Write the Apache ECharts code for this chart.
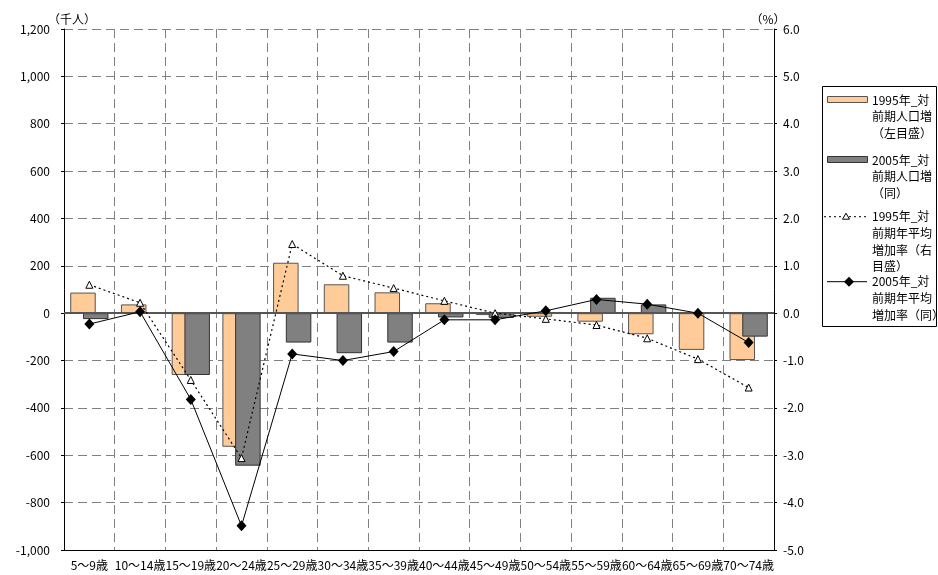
<!DOCTYPE html>
<html>
<head>
<meta charset="utf-8">
<script src="https://cdn.jsdelivr.net/npm/echarts@6/dist/echarts.min.js"></script>
<style>
  html, body { margin: 0; padding: 0; background: #fff; }
  #chart { width: 938px; height: 575px; }
</style>
</head>
<body>
<div id="chart"></div>
<script>
// Age groups on the category axis
const ageGroups = ['5～9歳', '10～14歳', '15～19歳', '20～24歳', '25～29歳', '30～34歳', '35～39歳',
  '40～44歳', '45～49歳', '50～54歳', '55～59歳', '60～64歳', '65～69歳', '70～74歳'];

// Population change from the previous period (thousand persons, left axis)
const pop1995 = [87, 37, -261, -564, 213, 122, 88, 42, -8, -15, -36, -89, -155, -198];
const pop2005 = [-25, 4, -261, -644, -124, -169, -124, -18, -20, 5, 65, 37, 0, -99];

// Average annual growth rate versus the previous period (%, right axis)
const rate1995 = [0.60, 0.22, -1.41, -3.06, 1.46, 0.79, 0.53, 0.26, 0.00, -0.12, -0.25, -0.53, -0.97, -1.57];
const rate2005 = [-0.23, 0.03, -1.82, -4.49, -0.86, -1.00, -0.81, -0.14, -0.14, 0.05, 0.29, 0.19, 0.00, -0.62];

// Series names (legend text lines)
const seriesNames = [
  ['1995年_対', '前期人口増', '（左目盛）'],
  ['2005年_対', '前期人口増', '（同）'],
  ['1995年_対', '前期年平均', '増加率（右', '目盛）'],
  ['2005年_対', '前期年平均', '増加率（同）']
];

const FONT = '"Noto Sans CJK JP", "Noto Sans", sans-serif';
const ORANGE = '#FFCC99';
const GRAY = '#808080';
const gridLine = { color: '#808080', width: 1, type: [9, 5] };

const chart = echarts.init(document.getElementById('chart'));

// Legend drawn as a bordered box with swatches to the right of the plot
const legendX = 822, legendTop = 86, legendW = 114, legendH = 240;
const itemY = [100, 160, 216.7, 281.7];
const lineH = 16.7;
const legendGraphics = [
  { type: 'rect', shape: { x: legendX + 0.5, y: legendTop + 0.5, width: legendW, height: legendH },
    style: { fill: '#fff', stroke: '#000', lineWidth: 1 }, z: 10 },
  { type: 'rect', shape: { x: 827.5, y: itemY[0] - 3.5, width: 40, height: 6 },
    style: { fill: ORANGE, stroke: '#555', lineWidth: 1 }, z: 11 },
  { type: 'rect', shape: { x: 827.5, y: itemY[1] - 3.5, width: 40, height: 6 },
    style: { fill: GRAY, stroke: '#333', lineWidth: 1 }, z: 11 },
  { type: 'line', shape: { x1: 824, y1: itemY[2], x2: 867, y2: itemY[2] },
    style: { stroke: '#000', lineWidth: 1, lineDash: [2, 3] }, z: 11 },
  { type: 'polygon', shape: { points: [[846, itemY[2] - 3.5], [842.5, itemY[2] + 2.5], [849.5, itemY[2] + 2.5]] },
    style: { fill: '#fff', stroke: '#000', lineWidth: 1 }, z: 12 },
  { type: 'line', shape: { x1: 827, y1: itemY[3], x2: 867, y2: itemY[3] },
    style: { stroke: '#000', lineWidth: 1 }, z: 11 },
  { type: 'polygon', shape: { points: [[849, itemY[3] - 5], [854, itemY[3]], [849, itemY[3] + 5], [844, itemY[3]]] },
    style: { fill: '#000' }, z: 12 }
];
seriesNames.forEach((lines, i) => {
  lines.forEach((t, j) => {
    legendGraphics.push({
      type: 'text', z: 12,
      style: { text: t, x: 872, y: itemY[i] + j * lineH, fill: '#000',
        font: '12px ' + FONT, textVerticalAlign: 'middle', verticalAlign: 'middle' }
    });
  });
});
// Unit captions above the two value axes
legendGraphics.push(
  { type: 'text', z: 12, style: { text: '（千人）', x: 72, y: 19, fill: '#000', font: '12px ' + FONT,
    align: 'center', verticalAlign: 'middle', textAlign: 'center', textVerticalAlign: 'middle' } },
  { type: 'text', z: 12, style: { text: '（%）', x: 768, y: 19, fill: '#000', font: '12px ' + FONT,
    align: 'center', verticalAlign: 'middle', textAlign: 'center', textVerticalAlign: 'middle' } }
);

chart.setOption({
  animation: false,
  textStyle: { fontFamily: FONT },
  grid: { left: 64, right: 164, top: 29, bottom: 25, containLabel: false },
  xAxis: {
    type: 'category',
    data: ageGroups,
    boundaryGap: true,
    axisLine: { onZero: false, lineStyle: { color: '#000', width: 1 } },
    axisTick: { show: false },
    axisLabel: { interval: 0, color: '#000', fontSize: 12, margin: 9, fontFamily: FONT },
    splitLine: { show: true, interval: 0, lineStyle: gridLine }
  },
  yAxis: [
    {
      type: 'value', min: -1000, max: 1200, interval: 200,
      axisLine: { show: true, lineStyle: { color: '#000', width: 1 } },
      axisTick: { show: true, length: 3, lineStyle: { color: '#000' } },
      axisLabel: { color: '#000', fontSize: 12, margin: 14, fontFamily: FONT,
        formatter: v => (v < 0 ? '-' : '') + Math.abs(v).toLocaleString('en-US') },
      splitLine: { show: true, lineStyle: gridLine }
    },
    {
      type: 'value', min: -5, max: 6, interval: 1, position: 'right',
      axisLine: { show: true, lineStyle: { color: '#000', width: 1 } },
      axisTick: { show: true, length: 3, lineStyle: { color: '#000' } },
      axisLabel: { color: '#000', fontSize: 12, margin: 9, fontFamily: FONT,
        formatter: v => v.toFixed(1) },
      splitLine: { show: false }
    }
  ],
  series: [
    {
      name: seriesNames[0].join(''), type: 'bar', yAxisIndex: 0, data: pop1995,
      barWidth: 25.5, barGap: '-50%',
      itemStyle: { color: ORANGE, borderColor: '#555', borderWidth: 1 },
      markLine: {
        silent: true, symbol: 'none', label: { show: false },
        lineStyle: { color: '#555', width: 2, type: 'solid' },
        data: [{ yAxis: 0 }]
      },
      z: 2
    },
    {
      name: seriesNames[1].join(''), type: 'bar', yAxisIndex: 0, data: pop2005,
      barWidth: 25.5, barGap: '-50%',
      itemStyle: { color: GRAY, borderColor: '#333', borderWidth: 1 },
      z: 3
    },
    {
      name: seriesNames[2].join(''), type: 'line', yAxisIndex: 1, data: rate1995,
      symbol: 'triangle', symbolSize: 7, showAllSymbol: true,
      lineStyle: { color: '#000', width: 1.2, type: [2, 3] },
      itemStyle: { color: '#fff', borderColor: '#000', borderWidth: 1 },
      z: 5
    },
    {
      name: seriesNames[3].join(''), type: 'line', yAxisIndex: 1, data: rate2005,
      symbol: 'diamond', symbolSize: [10, 11], showAllSymbol: true,
      lineStyle: { color: '#000', width: 1 },
      itemStyle: { color: '#000' },
      z: 6
    }
  ],
  graphic: legendGraphics
});
</script>
</body>
</html>
